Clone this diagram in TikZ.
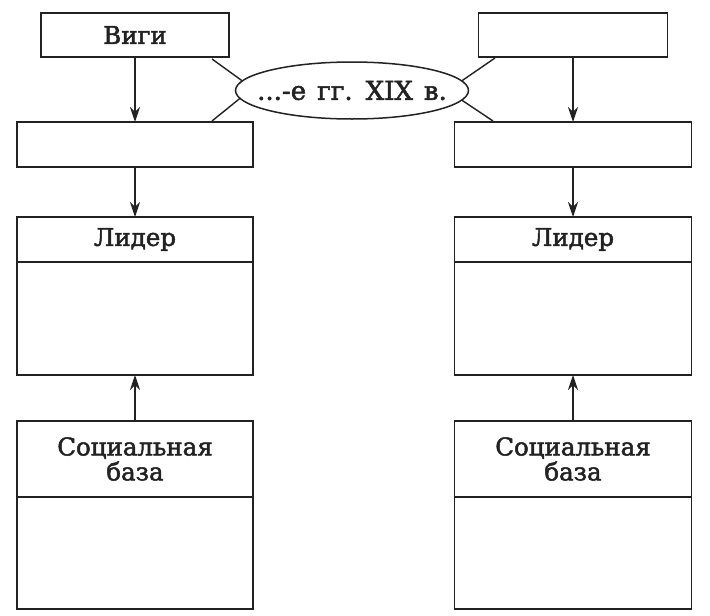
\documentclass[tikz,border=0pt]{standalone}
\usepackage{fontspec}
\setmainfont{DejaVu Serif}
\newfontfamily\heavy{DejaVu Serif}[FakeBold=2]
\usetikzlibrary{arrows.meta,shapes.geometric}
\definecolor{ink}{HTML}{222222}
\tikzset{
  box/.style={draw=ink, line width=1.5pt, rectangle, inner sep=0pt, outer sep=0pt,
    font=\fontsize{24.5}{25}\heavy, text=ink, align=center},
  arr/.style={draw=ink, line width=1.5pt, -{Stealth[length=15pt,width=10pt]}},
  link/.style={draw=ink, line width=1.4pt},
}
\begin{document}
\begin{tikzpicture}[x=1pt,y=-1pt]
\useasboundingbox[fill=white] (0,0) rectangle (710,616);
% left column
\node[box, minimum width=188, minimum height=44] (vigi) at (135,35) {Виги};
\node[box, minimum width=236, minimum height=45] (lsec) at (135,144.5) {};
\node[box, minimum width=236, minimum height=45] (llh) at (135,239.5) {Лидер};
\node[box, minimum width=236, minimum height=113, anchor=north] (llb) at (llh.south) {};
\node[box, minimum width=236, minimum height=76] (lsh) at (135,459) {Социальная\\база};
\node[box, minimum width=236, minimum height=112, anchor=north] (lsb) at (lsh.south) {};
% right column
\node[box, minimum width=189, minimum height=44] (rtop) at (573,35) {};
\node[box, minimum width=237, minimum height=45] (rsec) at (573,144.5) {};
\node[box, minimum width=237, minimum height=45] (rlh) at (573,239.5) {Лидер};
\node[box, minimum width=237, minimum height=113, anchor=north] (rlb) at (rlh.south) {};
\node[box, minimum width=237, minimum height=76] (rsh) at (573,459) {Социальная\\база};
\node[box, minimum width=237, minimum height=112, anchor=north] (rsb) at (rsh.south) {};
% ellipse
\node[box, ellipse, inner xsep=-50pt, minimum width=233, minimum height=57,
  font=\fontsize{26}{27}\heavy] (ell) at (352,90.5)
  {...-е\hspace{11pt}гг.\hspace{13pt}XIX\hspace{11pt}в.};
% link endpoints
\coordinate (a1) at (212,59);
\coordinate (a2) at (212,121);
\coordinate (b1) at (495,58);
\coordinate (b2) at (493,121);
% arrows
\draw[arr] (vigi) -- (lsec);
\draw[arr] (lsec) -- (llh);
\draw[arr] (lsh) -- (llb);
\draw[arr] (rtop) -- (rsec);
\draw[arr] (rsec) -- (rlh);
\draw[arr] (rsh) -- (rlb);
% links to ellipse
\draw[link] (a1) -- (ell.175.6);
\draw[link] (a2) -- (ell.184.9);
\draw[link] (b1) -- (ell.5.5);
\draw[link] (b2) -- (ell.355);
\end{tikzpicture}
\end{document}
